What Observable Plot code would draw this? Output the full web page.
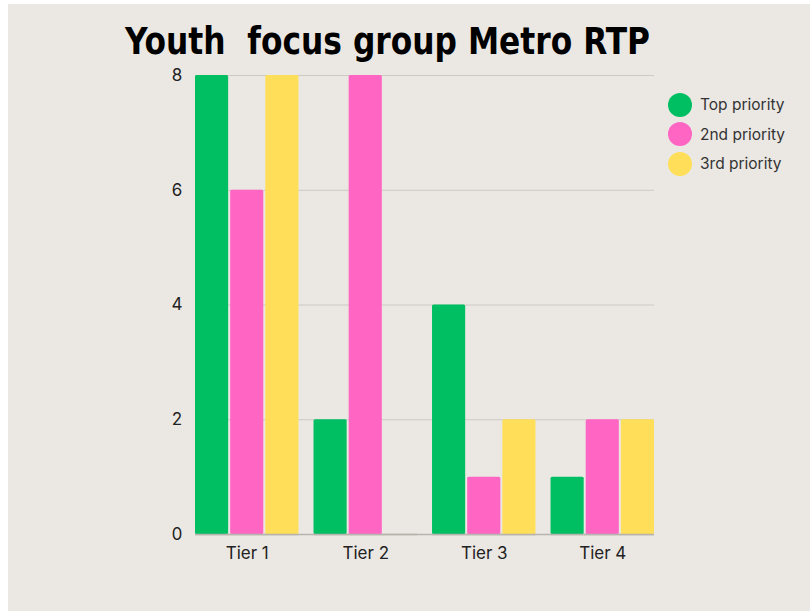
<!DOCTYPE html>
<html>
<head>
<meta charset="utf-8">
<script src="https://cdn.jsdelivr.net/npm/d3@7"></script>
<script src="https://cdn.jsdelivr.net/npm/@observablehq/plot@0.6"></script>
<style>
  html, body { margin: 0; padding: 0; background: #ffffff; }
  #wrap { position: absolute; left: 8px; top: 4px; width: 802px; height: 607px; background: #ebe8e4; overflow: hidden; }
  #title { position: absolute; left: 117px; top: 16px; font-family: "DejaVu Sans"; font-weight: bold; font-stretch: condensed; font-size: 37px; color: #000; white-space: pre; transform-origin: 0 0; }
  #legend { position: absolute; left: 660px; top: 86px; font-family: Inter, sans-serif; font-size: 15.5px; color: #333; }
  .item { display: flex; align-items: center; height: 29.5px; }
  .sw { width: 24px; height: 24px; border-radius: 50%; margin-right: 8px; }
  .layer { position: absolute; left: 0; top: 0; }
</style>
</head>
<body>
<div id="wrap">
  <div id="back" class="layer"></div>
  <div id="front" class="layer"></div>
  <div id="title"></div>
  <div id="legend"></div>
</div>
<script>
const titleText = "Youth  focus group Metro RTP";
const tiers = ["Tier 1", "Tier 2", "Tier 3", "Tier 4"];
const priorities = ["Top priority", "2nd priority", "3rd priority"];
const colors = ["#00bf63", "#ff66c4", "#ffde59"];
const topValues = [8, 2, 4, 1];
const secondValues = [6, 8, 1, 2];
const thirdValues = [8, 0, 2, 2];
const yTicks = [0, 2, 4, 6, 8];

const series = [topValues, secondValues, thirdValues];
const data = [];
tiers.forEach((t, i) => priorities.forEach((p, j) => data.push({tier: t, priority: p, value: series[j][i]})));

const common = {
  width: 802,
  height: 607,
  marginLeft: 187,
  marginRight: 156,
  marginTop: 71,
  marginBottom: 77,
  style: {background: "transparent", fontFamily: "Inter, sans-serif", fontSize: "17px", color: "#222"}
};

// Background: y axis, continuous gridlines and baseline
const back = Plot.plot({
  ...common,
  x: {domain: tiers, axis: null},
  y: {domain: [0, 8], ticks: yTicks, label: null, tickSize: 0, tickPadding: 13},
  marks: [
    Plot.ruleY(yTicks.filter(d => d > 0), {stroke: "#cdc9c3", strokeWidth: 1.2}),
    Plot.ruleY([0], {stroke: "#b7b3ad", strokeWidth: 1.5})
  ]
});
document.getElementById("back").appendChild(back);

// Front: grouped bars faceted by tier
const front = Plot.plot({
  ...common,
  fx: {domain: tiers, paddingInner: 0.127, paddingOuter: 0, round: false, label: null, tickSize: 0, tickPadding: 12},
  x: {domain: priorities, paddingInner: 0.057, paddingOuter: 0, round: false, axis: null},
  y: {domain: [0, 8], axis: null},
  color: {domain: priorities, range: colors},
  marks: [
    Plot.barY(data.filter(d => d.value > 0), {fx: "tier", x: "priority", y: "value", fill: "priority", rx: 1.5}),
    Plot.ruleY([0], {stroke: "#b7b3ad", strokeWidth: 1.5})
  ]
});
document.getElementById("front").appendChild(front);

const title = document.getElementById("title");
title.textContent = titleText;
const w = title.getBoundingClientRect().width;
title.style.transform = `scaleX(${525 / w})`;

const legend = document.getElementById("legend");
priorities.forEach((p, j) => {
  const it = document.createElement("div");
  it.className = "item";
  const sw = document.createElement("div");
  sw.className = "sw";
  sw.style.background = colors[j];
  const lb = document.createElement("span");
  lb.textContent = p;
  it.appendChild(sw); it.appendChild(lb);
  legend.appendChild(it);
});
</script>
</body>
</html>
